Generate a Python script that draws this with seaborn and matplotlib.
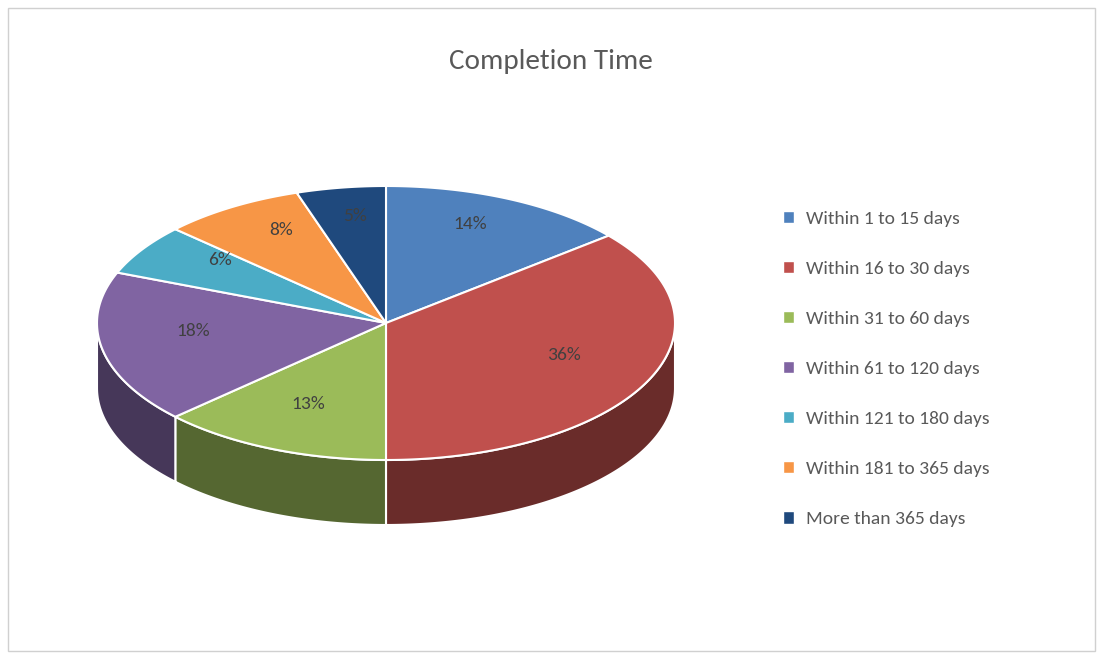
import numpy as np
import matplotlib
matplotlib.use("Agg")
import matplotlib.pyplot as plt
import seaborn as sns
from matplotlib.patches import Polygon, Patch, Rectangle
import colorsys
import matplotlib.colors as mc

sns.set_style("white")
plt.rcParams['font.family'] = ['Calibri', 'Carlito', 'Open Sans', 'DejaVu Sans']

categories = ["Within 1 to 15 days", "Within 16 to 30 days", "Within 31 to 60 days",
              "Within 61 to 120 days", "Within 121 to 180 days", "Within 181 to 365 days",
              "More than 365 days"]
values = [14, 36, 13, 18, 6, 8, 5]
colors = ["#4F81BD", "#C0504D", "#9BBB59", "#8064A2", "#4BACC6", "#F79646", "#1F497D"]

W, H = 1103, 659
fig = plt.figure(figsize=(W/100, H/100), dpi=100)
ax = fig.add_axes([0, 0, 1, 1])
ax.set_xlim(0, W); ax.set_ylim(H, 0); ax.axis('off')
ax.add_patch(Rectangle((8, 8), W-16, H-16, fill=False, ec="#D0D0D0", lw=1))

cx, cy, rx, ry, depth = 386, 323, 289, 137, 65

def darker(c, f):
    r, g, b = mc.to_rgb(c)
    return (r*f, g*f, b*f)

def pt(t):
    return cx + rx*np.cos(t), cy - ry*np.sin(t)

total = sum(values)
start = np.pi/2
bounds = []
a = start
for v in values:
    b = a - 2*np.pi*v/total
    bounds.append((a, b))
    a = b

# sides (front half)
for (a, b), c in zip(bounds, colors):
    ts = np.linspace(a, b, 200)
    ts = ts[np.sin(ts) <= 0.001]
    if len(ts) < 2:
        continue
    top = np.array([pt(t) for t in ts])
    bot = top + [0, depth]
    poly = np.vstack([top, bot[::-1]])
    ax.add_patch(Polygon(poly, closed=True, fc=darker(c, 0.55), ec="white", lw=1.5))

# tops
for (a, b), c, v in zip(bounds, colors, values):
    ts = np.linspace(a, b, 200)
    poly = np.vstack([[cx, cy], [pt(t) for t in ts]])
    ax.add_patch(Polygon(poly, closed=True, fc=c, ec="white", lw=1.5))
    m = (a + b)/2
    lx, ly = cx + 0.68*rx*np.cos(m), cy - 0.72*ry*np.sin(m) - 10
    ax.text(lx, ly, f"{v}%", ha="center", va="center", fontsize=14, color="#404040")

ax.text(551, 62, "Completion Time", ha="center", va="center", fontsize=21, color="#595959")

handles = [Patch(facecolor=c) for c in colors]
fig.legend(handles, categories, loc="center left", bbox_to_anchor=(765/W, 1-369/H),
           frameon=False, fontsize=14, labelcolor="#595959", handlelength=0.6,
           handleheight=0.6, labelspacing=1.75, handletextpad=0.6)

fig.savefig("out.png", dpi=100)
